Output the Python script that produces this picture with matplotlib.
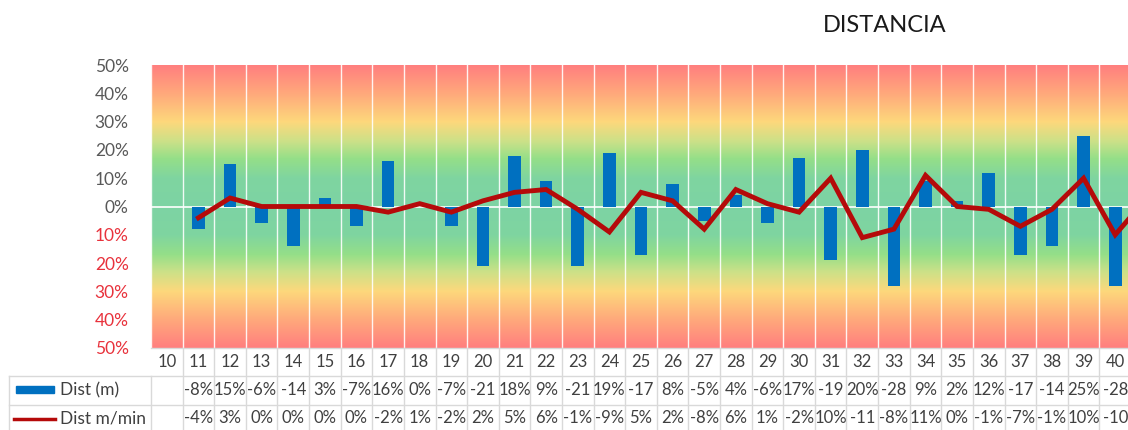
import numpy as np
import matplotlib
matplotlib.use("Agg")
import matplotlib.pyplot as plt
from matplotlib.colors import LinearSegmentedColormap
from matplotlib.patches import Rectangle
from matplotlib.lines import Line2D
import matplotlib.transforms as mtransforms

# ---------------- data ----------------
categories = [str(c) for c in range(10, 41)]
dist_m = [None, -8, 15, -6, -14, 3, -7, 16, 0, -7, -21, 18, 9, -21, 19, -17,
          8, -5, 4, -6, 17, -19, 20, -28, 9, 2, 12, -17, -14, 25, -28]
dist_m_min = [None, -4, 3, 0, 0, 0, 0, -2, 1, -2, 2, 5, 6, -1, -9, 5,
              2, -8, 6, 1, -2, 10, -11, -8, 11, 0, -1, -7, -1, 10, -10]
# next point (category 41) lies outside the visible (cropped) area
dist_m_min_next = 3
yticks = [50, 40, 30, 20, 10, 0, -10, -20, -30, -40, -50]
series_names = ["Dist (m)", "Dist m/min"]
title = "DISTANCIA"

plt.rcParams['font.family'] = ['Lato', 'DejaVu Sans']

W, H = 1128, 430
fig = plt.figure(figsize=(W / 100, H / 100), dpi=100)

ax_left, ax_right = 151, 1131
ax_top, ax_bottom = 65, 348
ax = fig.add_axes([ax_left / W, 1 - ax_bottom / H,
                   (ax_right - ax_left) / W, (ax_bottom - ax_top) / H])

n = len(categories)
x = np.arange(n)

# gradient background
cmap = LinearSegmentedColormap.from_list("bg", [
    (0.00, "#7DD3A4"), (0.20, "#7FD5A0"), (0.34, "#95DF88"),
    (0.46, "#CBE188"), (0.60, "#FDD87C"), (0.80, "#FFA97B"), (1.00, "#FF7F7F")])
yy = np.linspace(50, -50, 400)
img = np.abs(yy)[:, None] / 50.0
ax.imshow(img, cmap=cmap, vmin=0, vmax=1, aspect='auto',
          extent=(-0.5, n - 0.5, -50, 50), zorder=0, interpolation='bilinear')

# grid lines
for b in np.arange(n + 1) - 0.5:
    ax.axvline(b, color='white', lw=1.0, alpha=0.9, zorder=1)
ax.axhline(0, color='white', lw=1.2, zorder=1)

# bars
bx = [i for i, v in enumerate(dist_m) if v is not None]
bv = [v for v in dist_m if v is not None]
ax.bar(bx, bv, width=0.4, color='#0070C0', zorder=2)

# line
lx = [i for i, v in enumerate(dist_m_min) if v is not None] + [n]
lv = [v for v in dist_m_min if v is not None] + [dist_m_min_next]
ax.plot(lx, lv, color='#B50A0A', lw=3.5, zorder=3, solid_joinstyle='miter')

ax.set_xlim(-0.5, n - 0.5)
ax.set_ylim(-50, 50)
ax.set_xticks([])
ax.set_yticks(yticks)
ax.set_yticklabels([f"{abs(t)}%" for t in yticks], fontsize=12.5)
for t, lab in zip(yticks, ax.get_yticklabels()):
    lab.set_color('#E8323C' if t < 0 else '#595959')
ax.tick_params(axis='y', length=0, pad=16)
for s in ax.spines.values():
    s.set_visible(False)

# title
fig.text(885 / W, 1 - 25 / H, title, ha='center', va='center', fontsize=17,
         color='#1a1a1a')

# ---------------- data table ----------------
tr = mtransforms.blended_transform_factory(ax.transData, fig.transFigure)
grid_c = '#D9D9D9'
row_lines = [348, 376, 405, 430]
def fy(py):
    return 1 - py / H

# vertical lines between columns
for b in np.arange(n + 1) - 0.5:
    top = row_lines[0] if b > -0.5 else row_lines[1]
    fig.add_artist(Line2D([b, b], [fy(top), fy(H)], transform=tr,
                          color=grid_c, lw=1))
# horizontal lines
fig.add_artist(Line2D([ax_left / W, 1], [fy(row_lines[0])] * 2,
                      transform=fig.transFigure, color=grid_c, lw=1))
for py in row_lines[1:3]:
    fig.add_artist(Line2D([9 / W, 1], [fy(py)] * 2,
                          transform=fig.transFigure, color=grid_c, lw=1))
fig.add_artist(Line2D([9 / W, 9 / W], [fy(row_lines[1]), fy(H)],
                      transform=fig.transFigure, color=grid_c, lw=1))

txt_c = '#404040'
fs = 12
for i, c in enumerate(categories):
    fig.text(i, fy(362), c, transform=tr, ha='center', va='center',
             fontsize=fs, color=txt_c)
for i, (a, b) in enumerate(zip(dist_m, dist_m_min)):
    if a is not None:
        fig.text(i, fy(390), f"{a}%"[:3], transform=tr, ha='center',
                 va='center', fontsize=fs, color=txt_c)
    if b is not None:
        fig.text(i, fy(418), f"{b}%"[:3], transform=tr, ha='center',
                 va='center', fontsize=fs, color=txt_c)

# legend keys in table
fig.add_artist(Rectangle((16 / W, fy(393)), 38 / W, 7 / H,
                         transform=fig.transFigure, color='#0070C0'))
fig.add_artist(Line2D([14 / W, 55 / W], [fy(419)] * 2,
                      transform=fig.transFigure, color='#B50A0A', lw=2.5))
fig.text(60 / W, fy(390), series_names[0], ha='left', va='center',
         fontsize=12.5, color=txt_c)
fig.text(60 / W, fy(418), series_names[1], ha='left', va='center',
         fontsize=12.5, color=txt_c)

fig.savefig("out.png", dpi=100)
